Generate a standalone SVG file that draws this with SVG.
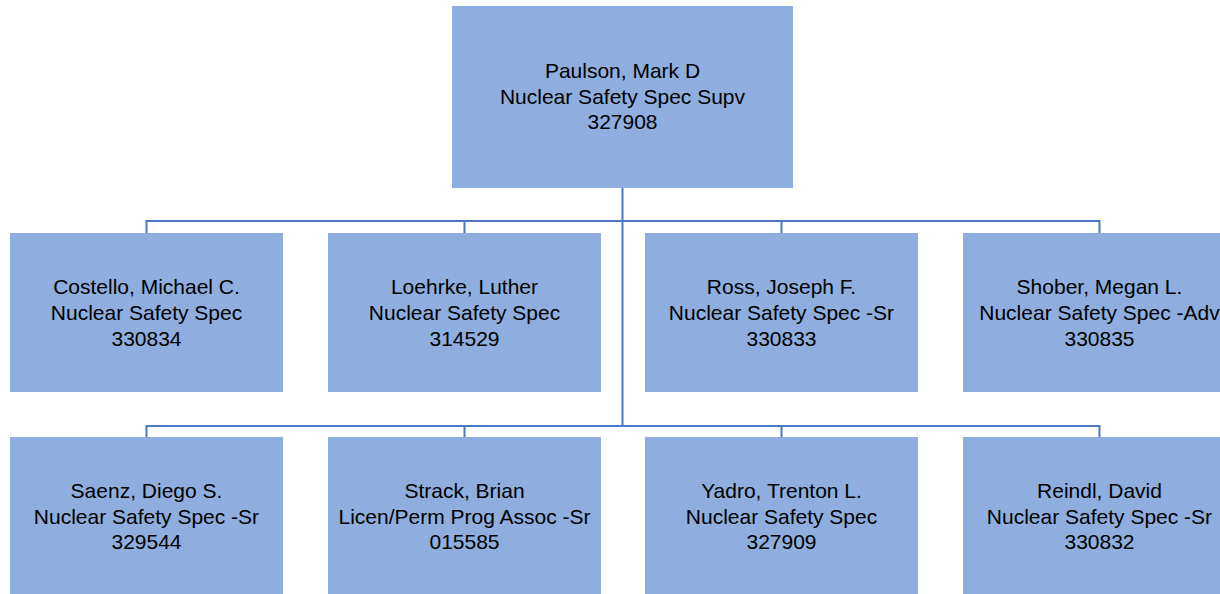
<svg xmlns="http://www.w3.org/2000/svg" width="1220" height="594" viewBox="0 0 1220 594">
<style>
.box{fill:#8DAEDE;stroke:none}
.t{font-family:"Liberation Sans",Arial,sans-serif;font-size:21px;fill:#000;text-anchor:middle}
.c{fill:none;stroke:#4A78C2;stroke-width:2}
</style>
<rect width="1220" height="594" fill="#fff"/>
<g id="connectors">
<path class="c" d="M622.5 188V426"/>
<path class="c" d="M146.5 233V221H1099.5V233M464.5 221V233M781.5 221V233"/>
<path class="c" d="M146.5 437V426H1099.5V437M464.5 426V437M781.5 426V437"/>
</g>
<g id="paulson">
<rect class="box" x="452" y="6" width="341" height="182"/>
<text class="t" x="622.5" y="78">Paulson, Mark D</text>
<text class="t" x="622.5" y="103.5">Nuclear Safety Spec Supv</text>
<text class="t" x="622.5" y="129">327908</text>
</g>
<g id="costello">
<rect class="box" x="10" y="233" width="273" height="159"/>
<text class="t" x="146.5" y="294">Costello, Michael C.</text>
<text class="t" x="146.5" y="320">Nuclear Safety Spec</text>
<text class="t" x="146.5" y="345.5">330834</text>
</g>
<g id="loehrke">
<rect class="box" x="328" y="233" width="273" height="159"/>
<text class="t" x="464.5" y="294">Loehrke, Luther</text>
<text class="t" x="464.5" y="320">Nuclear Safety Spec</text>
<text class="t" x="464.5" y="345.5">314529</text>
</g>
<g id="ross">
<rect class="box" x="645" y="233" width="273" height="159"/>
<text class="t" x="781.5" y="294">Ross, Joseph F.</text>
<text class="t" x="781.5" y="320">Nuclear Safety Spec -Sr</text>
<text class="t" x="781.5" y="345.5">330833</text>
</g>
<g id="shober">
<rect class="box" x="963" y="233" width="273" height="159"/>
<text class="t" x="1099.5" y="294">Shober, Megan L.</text>
<text class="t" x="1099.5" y="320">Nuclear Safety Spec -Adv</text>
<text class="t" x="1099.5" y="345.5">330835</text>
</g>
<g id="saenz">
<rect class="box" x="10" y="437" width="273" height="159"/>
<text class="t" x="146.5" y="498">Saenz, Diego S.</text>
<text class="t" x="146.5" y="523.5">Nuclear Safety Spec -Sr</text>
<text class="t" x="146.5" y="549">329544</text>
</g>
<g id="strack">
<rect class="box" x="328" y="437" width="273" height="159"/>
<text class="t" x="464.5" y="498">Strack, Brian</text>
<text class="t" x="464.5" y="523.5">Licen/Perm Prog Assoc -Sr</text>
<text class="t" x="464.5" y="549">015585</text>
</g>
<g id="yadro">
<rect class="box" x="645" y="437" width="273" height="159"/>
<text class="t" x="781.5" y="498">Yadro, Trenton L.</text>
<text class="t" x="781.5" y="523.5">Nuclear Safety Spec</text>
<text class="t" x="781.5" y="549">327909</text>
</g>
<g id="reindl">
<rect class="box" x="963" y="437" width="273" height="159"/>
<text class="t" x="1099.5" y="498">Reindl, David</text>
<text class="t" x="1099.5" y="523.5">Nuclear Safety Spec -Sr</text>
<text class="t" x="1099.5" y="549">330832</text>
</g>
</svg>
